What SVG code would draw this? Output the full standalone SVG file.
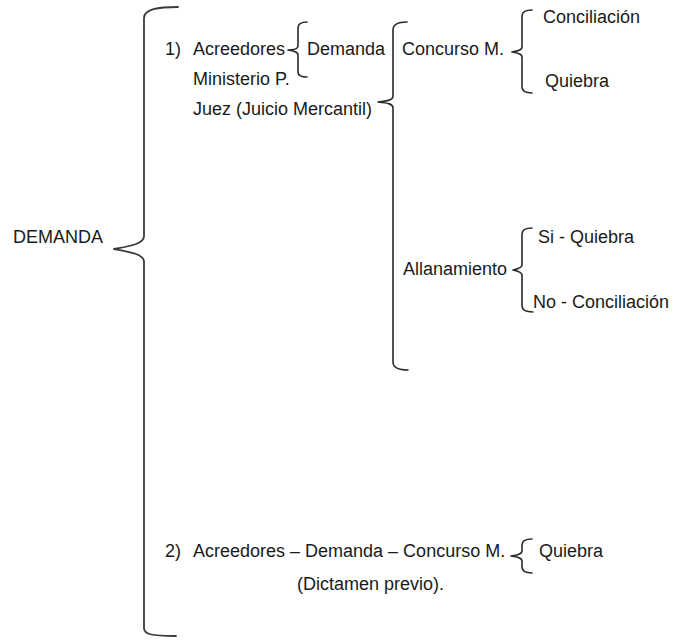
<svg xmlns="http://www.w3.org/2000/svg" width="674" height="640" viewBox="0 0 674 640">
<style>
text{font-family:"Liberation Sans",Arial,sans-serif;font-size:18px;fill:#1a1a1a}
.br{fill:none;stroke:#2a2a2a;stroke-width:1.6;stroke-linecap:round;stroke-linejoin:round}
.big{stroke:#3a3a3a;stroke-width:1.8}
</style>
<rect width="674" height="640" fill="#ffffff"/>
<g id="connectors">
<path class="br big" d="M178,7 C158,7 144,9 144,18 L144,236 C144,244 130,246 114,249 C130,252 144,254 144,262 L144,628 C144,634 150,636 176,636"/>
<path class="br" d="M307,22 C301,22 298,24 298,28 L298,46 C298,49 294,50 288,50 C294,51 298,52 298,55 L298,72 C298,76 301,77 307,77"/>
<path class="br" d="M407,22 C399,22 393,24 393,30 L393,96 C393,100 388,101 378,102 C388,103 393,104 393,108 L393,362 C393,368 399,370 408,370"/>
<path class="br" d="M532,10 C526,10 522,12 522,16 L522,47 C522,50 518,51 512,52 C518,53 522,54 522,57 L522,87 C522,91 526,93 532,93"/>
<path class="br" d="M532,228 C526,228 522,230 522,234 L522,265 C522,268 518,269 513,270 C518,271 522,272 522,275 L522,306 C522,310 526,312 533,312"/>
<path class="br" d="M532,539 C526,539 522,541 522,545 L522,551 C522,554 518,555 511,556 C518,557 522,558 522,561 L522,567 C522,571 526,573 532,573"/>
</g>
<g id="demanda"><text x="13" y="243">DEMANDA</text></g>
<g id="n1"><text x="165" y="55">1)</text></g>
<g id="acreedores1"><text x="193" y="55">Acreedores</text></g>
<g id="demanda1"><text x="307" y="55">Demanda</text></g>
<g id="ministerio"><text x="193" y="85">Ministerio P.</text></g>
<g id="juez"><text x="193" y="115">Juez (Juicio Mercantil)</text></g>
<g id="concurso1"><text x="402" y="55">Concurso M.</text></g>
<g id="conciliacion1"><text x="543" y="23">Conciliación</text></g>
<g id="quiebra1"><text x="545" y="87">Quiebra</text></g>
<g id="allanamiento"><text x="403" y="275">Allanamiento</text></g>
<g id="si-quiebra"><text x="538" y="243">Si - Quiebra</text></g>
<g id="no-conciliacion"><text x="533" y="308">No - Conciliación</text></g>
<g id="linea2"><text x="165" y="557">2)</text><text x="193" y="557">Acreedores – Demanda – Concurso M.</text></g>
<g id="quiebra2"><text x="539" y="557">Quiebra</text></g>
<g id="dictamen"><text x="297" y="590">(Dictamen previo).</text></g>
</svg>
